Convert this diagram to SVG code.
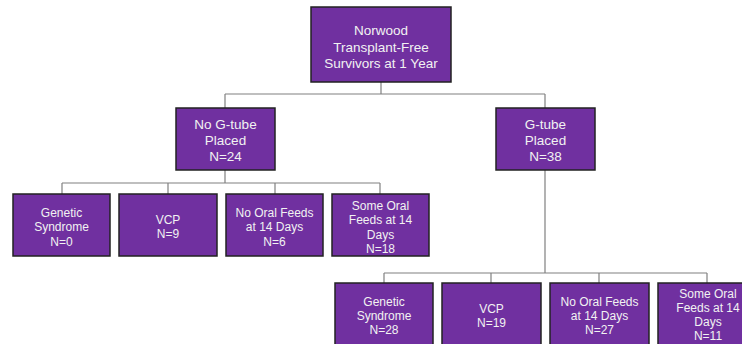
<svg xmlns="http://www.w3.org/2000/svg" width="742" height="344" viewBox="0 0 742 344">
<style>
.box{fill:#7030A0;stroke:#222;stroke-width:1.5}
.t{font-family:"Liberation Sans",Arial,sans-serif;fill:#f2f2f2;text-anchor:middle}
.l{font-size:13.5px}
.s{font-size:12px}
.c{fill:none;stroke:#808080;stroke-width:1.2}
</style>
<rect width="742" height="344" fill="#ffffff"/>
<g id="connectors">
<path class="c" d="M381 82V94M225 94H545M225 94V108M545 94V108"/>
<path class="c" d="M225 170V183M62 183H380M62 183V194M168 183V194M275 183V194M380 183V194"/>
<path class="c" d="M545 170V273M384 273H707M384 273V283M491 273V283M599 273V283M707 273V283"/>
</g>
<g id="root"><rect class="box" x="311" y="7" width="140" height="75"/>
<text class="t l"><tspan x="381" y="35">Norwood</tspan><tspan x="381" y="51.5">Transplant-Free</tspan><tspan x="381" y="68">Survivors at 1 Year</tspan></text></g>
<g id="nogtube"><rect class="box" x="176" y="108" width="99" height="62"/>
<text class="t l"><tspan x="225.5" y="129">No G-tube</tspan><tspan x="225.5" y="145">Placed</tspan><tspan x="225.5" y="161">N=24</tspan></text></g>
<g id="gtube"><rect class="box" x="496" y="108" width="99" height="62"/>
<text class="t l"><tspan x="545.5" y="129">G-tube</tspan><tspan x="545.5" y="145">Placed</tspan><tspan x="545.5" y="161">N=38</tspan></text></g>
<g id="n1"><rect class="box" x="13" y="194" width="97" height="62"/>
<text class="t s"><tspan x="61.5" y="216.5">Genetic</tspan><tspan x="61.5" y="231">Syndrome</tspan><tspan x="61.5" y="245.5">N=0</tspan></text></g>
<g id="n2"><rect class="box" x="119" y="194" width="98" height="62"/>
<text class="t s"><tspan x="168" y="223.5">VCP</tspan><tspan x="168" y="238">N=9</tspan></text></g>
<g id="n3"><rect class="box" x="226" y="194" width="97" height="62"/>
<text class="t s"><tspan x="274.5" y="216.5">No Oral Feeds</tspan><tspan x="274.5" y="231">at 14 Days</tspan><tspan x="274.5" y="245.5">N=6</tspan></text></g>
<g id="n4"><rect class="box" x="332" y="194" width="97" height="62"/>
<text class="t s"><tspan x="380.5" y="209.5">Some Oral</tspan><tspan x="380.5" y="224">Feeds at 14</tspan><tspan x="380.5" y="238.5">Days</tspan><tspan x="380.5" y="253">N=18</tspan></text></g>
<g id="g1"><rect class="box" x="335" y="283" width="98" height="62"/>
<text class="t s"><tspan x="384" y="306">Genetic</tspan><tspan x="384" y="320">Syndrome</tspan><tspan x="384" y="334">N=28</tspan></text></g>
<g id="g2"><rect class="box" x="442" y="283" width="99" height="62"/>
<text class="t s"><tspan x="491.5" y="312.5">VCP</tspan><tspan x="491.5" y="327">N=19</tspan></text></g>
<g id="g3"><rect class="box" x="550" y="283" width="99" height="62"/>
<text class="t s"><tspan x="599.5" y="306">No Oral Feeds</tspan><tspan x="599.5" y="320">at 14 Days</tspan><tspan x="599.5" y="334">N=27</tspan></text></g>
<g id="g4"><rect class="box" x="658" y="283" width="98" height="62"/>
<text class="t s"><tspan x="708" y="297.5">Some Oral</tspan><tspan x="708" y="311.5">Feeds at 14</tspan><tspan x="708" y="325.5">Days</tspan><tspan x="708" y="339.5">N=11</tspan></text></g>
</svg>
